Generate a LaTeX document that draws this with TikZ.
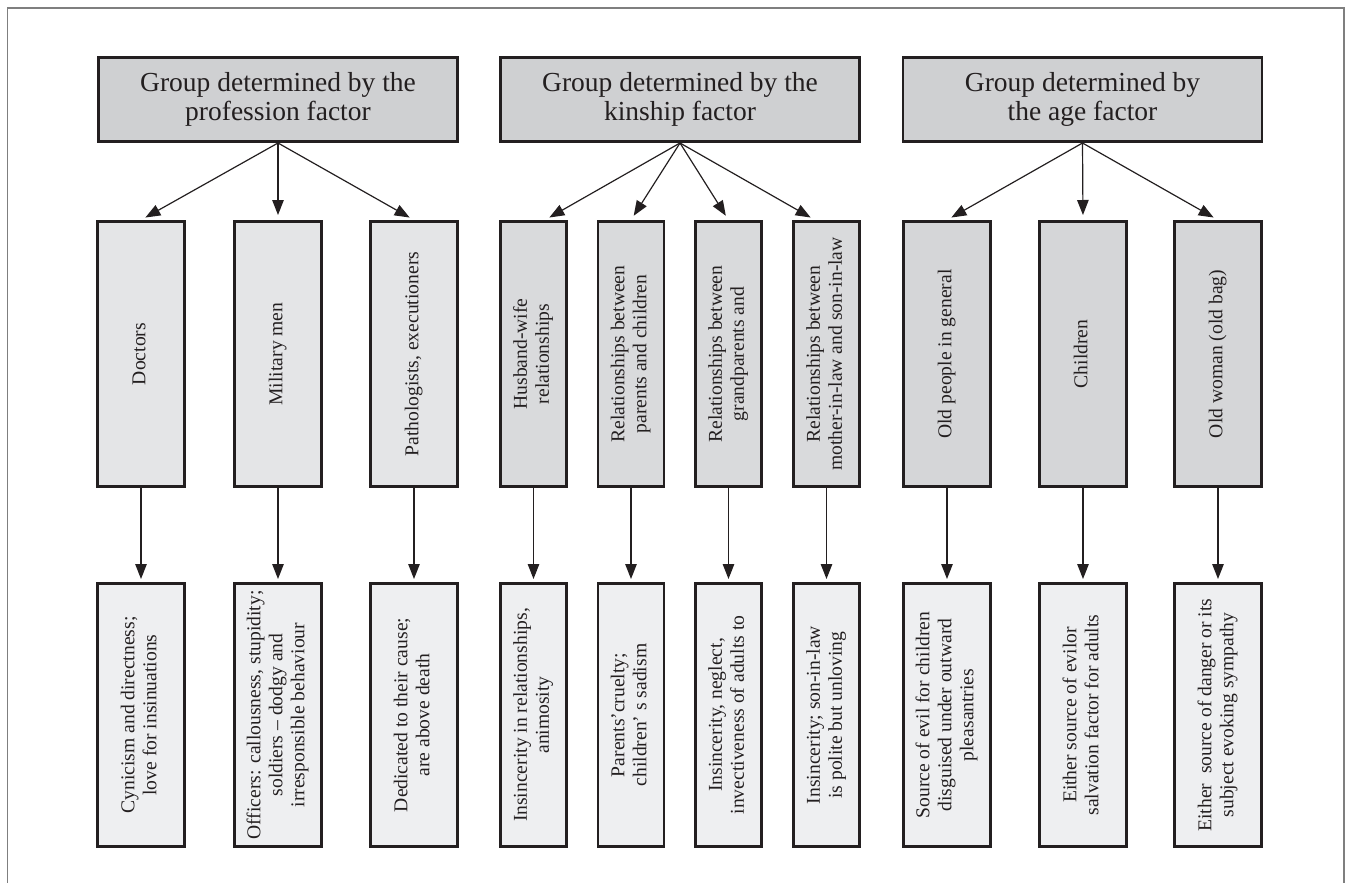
\documentclass[tikz,border=0pt]{standalone}
\usepackage{fontspec}
\setmainfont{Liberation Serif}
\usepackage{graphicx}
\usetikzlibrary{arrows.meta}
\definecolor{ink}{HTML}{231F20}
\definecolor{topfill}{HTML}{CFD0D2}
\definecolor{proffill}{HTML}{E4E5E7}
\definecolor{kinfill}{HTML}{D9DADC}
\definecolor{agefill}{HTML}{D5D6D8}
\definecolor{botfill}{HTML}{EEEFF1}
\definecolor{framegray}{HTML}{7F7F7F}
\newcommand{\vtext}[1]{\rotatebox{90}{\begin{tabular}{@{}c@{}}#1\end{tabular}}}
\begin{document}
\begin{tikzpicture}[x=1pt,y=-1pt,
  box/.style={draw=ink, line width=2.6pt, inner sep=0pt, text=ink, align=center},
  topbox/.style={box, fill=topfill, minimum width=359pt, minimum height=84.4pt,
    font=\fontsize{27.5}{29}\selectfont},
  vbox/.style={box, minimum height=265.4pt, font=\fontsize{19.6}{22}\selectfont},
  wide/.style={minimum width=87.4pt},
  narrow/.style={minimum width=66pt},
  lowbox/.style={box, fill=botfill, minimum height=263.4pt, font=\fontsize{19.6}{22}\selectfont},
  arr/.style={draw=ink, line width=1.2pt, -{Triangle[length=15pt,width=11.5pt]}},
  frameline/.style={draw=framegray, line width=1.5pt}
]
\useasboundingbox (0,0) rectangle (1349,883);
\draw[frameline] (7.5,883) -- (7.5,8) -- (1344,8) -- (1344,883);

% top boxes
\node[topbox] (prof) at (278,99.5) {Group determined by the\\profession factor};
\node[topbox] (kin) at (680,99.5) {Group determined by the\\kinship factor};
\node[topbox] (age) at (1082.5,99.5) {Group determined by\\the age factor};

% middle boxes
\node[vbox, wide, fill=proffill] (doc) at (141,354) {\vtext{Doctors}};
\node[vbox, wide, fill=proffill] (mil) at (278,354) {\vtext{Military men}};
\node[vbox, wide, fill=proffill] (pat) at (414,354) {\vtext{Pathologists, executioners}};

\node[vbox, narrow, fill=kinfill] (hw) at (533.5,354) {\vtext{Husband-wife\\relationships}};
\node[vbox, narrow, fill=kinfill] (pc) at (631,354) {\vtext{Relationships between\\parents and children}};
\node[vbox, narrow, fill=kinfill] (gp) at (728.5,354) {\vtext{Relationships between\\grandparents and}};
\node[vbox, narrow, fill=kinfill] (ml) at (826.5,354) {\vtext{Relationships between\\mother-in-law and son-in-law}};

\node[vbox, wide, fill=agefill] (old) at (947,354) {\vtext{Old people in general}};
\node[vbox, wide, fill=agefill] (chi) at (1083,354) {\vtext{Children}};
\node[vbox, wide, fill=agefill] (ow) at (1218,354) {\vtext{Old woman (old bag)}};

% bottom boxes
\node[lowbox, wide] (docB) at (141,715) {\vtext{Cynicism and directness;\\love for insinuations}};
\node[lowbox, wide] (milB) at (278,715) {\vtext{Officers: callousness, stupidity;\\soldiers -- dodgy and\\irresponsible behaviour}};
\node[lowbox, wide] (patB) at (414,715) {\vtext{Dedicated to their cause;\\are above death}};

\node[lowbox, narrow] (hwB) at (533.5,715) {\vtext{Insincerity in relationships,\\animosity}};
\node[lowbox, narrow] (pcB) at (631,715) {\vtext{Parents'cruelty;\\children' s sadism}};
\node[lowbox, narrow] (gpB) at (728.5,715) {\vtext{Insincerity, neglect,\\invectiveness of adults to}};
\node[lowbox, narrow] (mlB) at (826.5,715) {\vtext{Insincerity; son-in-law\\is polite but unloving}};

\node[lowbox, wide] (oldB) at (947,715) {\vtext{Source of evil for children\\disguised under outward\\pleasantries}};
\node[lowbox, wide] (chiB) at (1083,715) {\vtext{Either source of evilor\\salvation factor for adults}};
\node[lowbox, wide] (owB) at (1218,715) {\vtext{Either\ \ source of danger or its\\subject evoking sympathy}};

% arrows from top boxes
\foreach \t in {doc,mil,pat}{\draw[arr, shorten >=5pt] (prof.south) -- (\t.north);}
\draw[arr, shorten >=5pt] (kin.south) -- ([xshift=11.5pt]hw.north);
\draw[arr, shorten >=5pt] (kin.south) -- (pc.north);
\draw[arr, shorten >=5pt] (kin.south) -- (gp.north);
\draw[arr, shorten >=5pt] (kin.south) -- ([xshift=-11.5pt]ml.north);
\foreach \t in {old,chi,ow}{\draw[arr, shorten >=5pt] (age.south) -- (\t.north);}

% vertical arrows
\foreach \t in {doc,mil,pat,hw,pc,gp,ml,old,chi,ow}{\draw[arr, shorten >=3pt] (\t.south) -- (\t B.north);}
\end{tikzpicture}
\end{document}
